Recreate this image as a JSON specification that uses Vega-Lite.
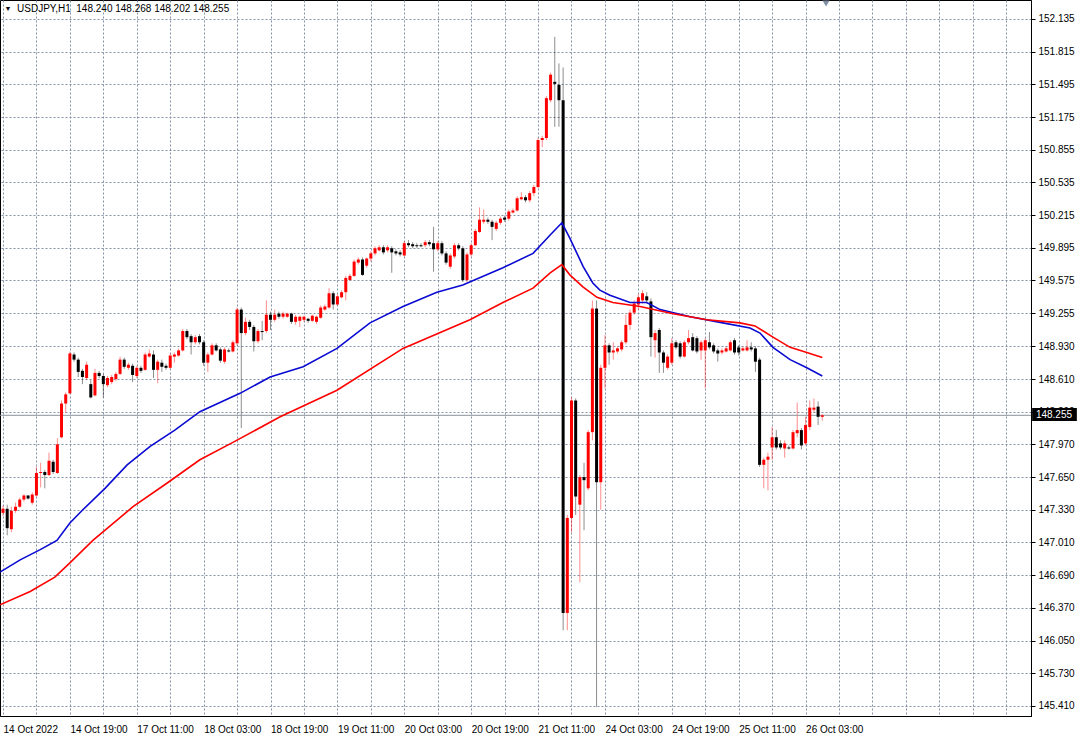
{
  "$schema": "https://vega.github.io/schema/vega-lite/v6.json",
  "width": 1031,
  "height": 716,
  "autosize": {"type": "none"},
  "padding": {"top": 0, "left": 0, "right": 54, "bottom": 28},
  "background": "#ffffff",
  "config": {
    "view": {"stroke": "#000000", "strokeWidth": 1},
    "font": "Liberation Sans, Arial, sans-serif",
    "scale": {"continuousPadding": 0},
    "axis": {
      "grid": true, "gridColor": "#8591a5", "gridDash": [2, 2], "gridWidth": 1, "gridOpacity": 1,
      "domainColor": "#000000", "tickColor": "#000000",
      "labelFontSize": 10, "labelColor": "#000000", "labelFont": "Liberation Sans, Arial, sans-serif",
      "labelOverlap": false, "labelFlush": false, "labelBound": false, "labelSeparation": 0
    }
  },
  "resolve": {"axis": {"x": "independent", "y": "independent"}},
  "datasets": {
    "ohlc": [
      {"i":0,"o":147.30,"h":147.37,"l":147.27,"c":147.34},
      {"i":1,"o":147.34,"h":147.38,"l":147.08,"c":147.15},
      {"i":2,"o":147.14,"h":147.36,"l":147.11,"c":147.32},
      {"i":3,"o":147.32,"h":147.40,"l":147.30,"c":147.36},
      {"i":4,"o":147.36,"h":147.45,"l":147.35,"c":147.43},
      {"i":5,"o":147.43,"h":147.48,"l":147.41,"c":147.47},
      {"i":6,"o":147.47,"h":147.47,"l":147.43,"c":147.44},
      {"i":7,"o":147.40,"h":147.50,"l":147.38,"c":147.48},
      {"i":8,"o":147.47,"h":147.75,"l":147.46,"c":147.69},
      {"i":9,"o":147.69,"h":147.79,"l":147.55,"c":147.70},
      {"i":10,"o":147.70,"h":147.72,"l":147.54,"c":147.67},
      {"i":11,"o":147.67,"h":147.89,"l":147.66,"c":147.81},
      {"i":12,"o":147.80,"h":147.82,"l":147.68,"c":147.70},
      {"i":13,"o":147.69,"h":148.03,"l":147.68,"c":147.97},
      {"i":14,"o":148.04,"h":148.40,"l":148.03,"c":148.37},
      {"i":15,"o":148.37,"h":148.48,"l":148.28,"c":148.46},
      {"i":16,"o":148.47,"h":148.88,"l":148.46,"c":148.86},
      {"i":17,"o":148.85,"h":148.87,"l":148.78,"c":148.80},
      {"i":18,"o":148.80,"h":148.82,"l":148.63,"c":148.68},
      {"i":19,"o":148.69,"h":148.71,"l":148.56,"c":148.63},
      {"i":20,"o":148.62,"h":148.78,"l":148.60,"c":148.75},
      {"i":21,"o":148.56,"h":148.60,"l":148.42,"c":148.43},
      {"i":22,"o":148.45,"h":148.71,"l":148.44,"c":148.67},
      {"i":23,"o":148.67,"h":148.69,"l":148.62,"c":148.64},
      {"i":24,"o":148.64,"h":148.66,"l":148.43,"c":148.56},
      {"i":25,"o":148.55,"h":148.64,"l":148.53,"c":148.62},
      {"i":26,"o":148.58,"h":148.65,"l":148.56,"c":148.63},
      {"i":27,"o":148.61,"h":148.68,"l":148.59,"c":148.66},
      {"i":28,"o":148.66,"h":148.83,"l":148.65,"c":148.80},
      {"i":29,"o":148.80,"h":148.82,"l":148.71,"c":148.73},
      {"i":30,"o":148.72,"h":148.77,"l":148.70,"c":148.75},
      {"i":31,"o":148.74,"h":148.76,"l":148.58,"c":148.65},
      {"i":32,"o":148.64,"h":148.74,"l":148.62,"c":148.72},
      {"i":33,"o":148.72,"h":148.74,"l":148.67,"c":148.69},
      {"i":34,"o":148.70,"h":148.87,"l":148.69,"c":148.85},
      {"i":35,"o":148.83,"h":148.90,"l":148.82,"c":148.86},
      {"i":36,"o":148.85,"h":148.89,"l":148.62,"c":148.70},
      {"i":37,"o":148.70,"h":148.80,"l":148.57,"c":148.78},
      {"i":38,"o":148.77,"h":148.80,"l":148.68,"c":148.73},
      {"i":39,"o":148.74,"h":148.76,"l":148.70,"c":148.72},
      {"i":40,"o":148.72,"h":148.86,"l":148.71,"c":148.84},
      {"i":41,"o":148.83,"h":148.87,"l":148.77,"c":148.85},
      {"i":42,"o":148.84,"h":148.91,"l":148.83,"c":148.89},
      {"i":43,"o":148.89,"h":149.10,"l":148.88,"c":149.08},
      {"i":44,"o":149.08,"h":149.10,"l":149.00,"c":149.02},
      {"i":45,"o":149.03,"h":149.05,"l":148.85,"c":148.97},
      {"i":46,"o":148.97,"h":149.04,"l":148.95,"c":149.02},
      {"i":47,"o":149.03,"h":149.05,"l":148.95,"c":148.97},
      {"i":48,"o":148.97,"h":148.99,"l":148.74,"c":148.77},
      {"i":49,"o":148.77,"h":148.87,"l":148.68,"c":148.85},
      {"i":50,"o":148.85,"h":148.96,"l":148.84,"c":148.94},
      {"i":51,"o":148.94,"h":148.96,"l":148.88,"c":148.89},
      {"i":52,"o":148.90,"h":148.92,"l":148.77,"c":148.79},
      {"i":53,"o":148.78,"h":148.92,"l":148.76,"c":148.90},
      {"i":54,"o":148.89,"h":148.91,"l":148.87,"c":148.88},
      {"i":55,"o":148.88,"h":148.99,"l":148.87,"c":148.97},
      {"i":56,"o":148.96,"h":149.31,"l":148.94,"c":149.29},
      {"i":57,"o":149.29,"h":149.31,"l":148.13,"c":149.06},
      {"i":58,"o":149.06,"h":149.21,"l":149.04,"c":149.17},
      {"i":59,"o":149.17,"h":149.19,"l":149.09,"c":149.12},
      {"i":60,"o":149.12,"h":149.14,"l":148.88,"c":148.98},
      {"i":61,"o":148.98,"h":149.10,"l":148.96,"c":149.08},
      {"i":62,"o":149.08,"h":149.18,"l":148.99,"c":149.07},
      {"i":63,"o":149.08,"h":149.38,"l":149.06,"c":149.24},
      {"i":64,"o":149.24,"h":149.27,"l":149.09,"c":149.19},
      {"i":65,"o":149.19,"h":149.29,"l":149.17,"c":149.24},
      {"i":66,"o":149.25,"h":149.27,"l":149.20,"c":149.22},
      {"i":67,"o":149.22,"h":149.27,"l":149.20,"c":149.25},
      {"i":68,"o":149.22,"h":149.26,"l":149.21,"c":149.25},
      {"i":69,"o":149.25,"h":149.26,"l":149.15,"c":149.17},
      {"i":70,"o":149.17,"h":149.24,"l":149.14,"c":149.22},
      {"i":71,"o":149.18,"h":149.23,"l":149.12,"c":149.22},
      {"i":72,"o":149.19,"h":149.23,"l":149.17,"c":149.22},
      {"i":73,"o":149.20,"h":149.21,"l":149.16,"c":149.18},
      {"i":74,"o":149.18,"h":149.24,"l":149.17,"c":149.23},
      {"i":75,"o":149.17,"h":149.23,"l":149.15,"c":149.22},
      {"i":76,"o":149.21,"h":149.33,"l":149.20,"c":149.31},
      {"i":77,"o":149.29,"h":149.34,"l":149.28,"c":149.32},
      {"i":78,"o":149.31,"h":149.50,"l":149.30,"c":149.45},
      {"i":79,"o":149.45,"h":149.47,"l":149.29,"c":149.34},
      {"i":80,"o":149.34,"h":149.44,"l":149.33,"c":149.42},
      {"i":81,"o":149.41,"h":149.48,"l":149.40,"c":149.46},
      {"i":82,"o":149.46,"h":149.62,"l":149.38,"c":149.60},
      {"i":83,"o":149.58,"h":149.64,"l":149.57,"c":149.62},
      {"i":84,"o":149.62,"h":149.78,"l":149.61,"c":149.76},
      {"i":85,"o":149.75,"h":149.80,"l":149.73,"c":149.78},
      {"i":86,"o":149.78,"h":149.80,"l":149.62,"c":149.63},
      {"i":87,"o":149.72,"h":149.80,"l":149.70,"c":149.79},
      {"i":88,"o":149.79,"h":149.86,"l":149.76,"c":149.84},
      {"i":89,"o":149.84,"h":149.91,"l":149.82,"c":149.89},
      {"i":90,"o":149.87,"h":149.92,"l":149.86,"c":149.90},
      {"i":91,"o":149.90,"h":149.92,"l":149.83,"c":149.85},
      {"i":92,"o":149.87,"h":149.92,"l":149.85,"c":149.90},
      {"i":93,"o":149.89,"h":149.91,"l":149.65,"c":149.85},
      {"i":94,"o":149.86,"h":149.88,"l":149.82,"c":149.84},
      {"i":95,"o":149.85,"h":149.87,"l":149.81,"c":149.83},
      {"i":96,"o":149.82,"h":149.96,"l":149.81,"c":149.94},
      {"i":97,"o":149.94,"h":149.97,"l":149.90,"c":149.92},
      {"i":98,"o":149.93,"h":149.95,"l":149.89,"c":149.91},
      {"i":99,"o":149.92,"h":149.94,"l":149.89,"c":149.91},
      {"i":100,"o":149.92,"h":149.94,"l":149.90,"c":149.91},
      {"i":101,"o":149.92,"h":149.97,"l":149.90,"c":149.95},
      {"i":102,"o":149.95,"h":149.97,"l":149.91,"c":149.93},
      {"i":103,"o":149.94,"h":150.10,"l":149.66,"c":149.88},
      {"i":104,"o":149.88,"h":149.96,"l":149.86,"c":149.94},
      {"i":105,"o":149.94,"h":149.96,"l":149.82,"c":149.84},
      {"i":106,"o":149.84,"h":149.86,"l":149.73,"c":149.75},
      {"i":107,"o":149.71,"h":149.84,"l":149.69,"c":149.82},
      {"i":108,"o":149.81,"h":149.94,"l":149.79,"c":149.92},
      {"i":109,"o":149.92,"h":149.94,"l":149.87,"c":149.89},
      {"i":110,"o":149.89,"h":149.91,"l":149.56,"c":149.58},
      {"i":111,"o":149.58,"h":149.85,"l":149.56,"c":149.83},
      {"i":112,"o":149.83,"h":149.94,"l":149.81,"c":149.92},
      {"i":113,"o":149.92,"h":150.08,"l":149.91,"c":150.06},
      {"i":114,"o":150.05,"h":150.29,"l":150.04,"c":150.17},
      {"i":115,"o":150.15,"h":150.27,"l":150.13,"c":150.17},
      {"i":116,"o":150.17,"h":150.19,"l":150.13,"c":150.15},
      {"i":117,"o":150.15,"h":150.17,"l":149.97,"c":150.10},
      {"i":118,"o":150.08,"h":150.16,"l":150.06,"c":150.14},
      {"i":119,"o":150.14,"h":150.20,"l":150.12,"c":150.18},
      {"i":120,"o":150.19,"h":150.21,"l":150.15,"c":150.17},
      {"i":121,"o":150.18,"h":150.27,"l":150.16,"c":150.25},
      {"i":122,"o":150.24,"h":150.28,"l":150.23,"c":150.26},
      {"i":123,"o":150.26,"h":150.40,"l":150.25,"c":150.38},
      {"i":124,"o":150.37,"h":150.44,"l":150.36,"c":150.39},
      {"i":125,"o":150.39,"h":150.41,"l":150.34,"c":150.36},
      {"i":126,"o":150.36,"h":150.45,"l":150.34,"c":150.43},
      {"i":127,"o":150.43,"h":150.51,"l":150.40,"c":150.49},
      {"i":128,"o":150.49,"h":150.97,"l":150.48,"c":150.95},
      {"i":129,"o":150.95,"h":150.99,"l":150.88,"c":150.97},
      {"i":130,"o":150.97,"h":151.38,"l":150.95,"c":151.36},
      {"i":131,"o":151.34,"h":151.61,"l":151.32,"c":151.59},
      {"i":132,"o":151.52,"h":151.96,"l":151.08,"c":151.50},
      {"i":133,"o":151.49,"h":151.70,"l":151.08,"c":151.34},
      {"i":134,"o":151.34,"h":151.66,"l":146.15,"c":146.32},
      {"i":135,"o":146.32,"h":147.28,"l":146.15,"c":147.25},
      {"i":136,"o":147.25,"h":148.43,"l":147.11,"c":148.40},
      {"i":137,"o":148.40,"h":148.42,"l":147.28,"c":147.46},
      {"i":138,"o":147.38,"h":147.67,"l":146.62,"c":147.65},
      {"i":139,"o":147.65,"h":147.79,"l":147.13,"c":147.62},
      {"i":140,"o":147.54,"h":148.11,"l":147.52,"c":148.09},
      {"i":141,"o":148.09,"h":149.38,"l":148.01,"c":149.30},
      {"i":142,"o":149.30,"h":149.38,"l":145.40,"c":147.60},
      {"i":143,"o":147.60,"h":148.75,"l":147.33,"c":148.72},
      {"i":144,"o":148.72,"h":149.04,"l":148.52,"c":148.94},
      {"i":145,"o":148.94,"h":148.96,"l":148.75,"c":148.87},
      {"i":146,"o":148.87,"h":148.97,"l":148.80,"c":148.89},
      {"i":147,"o":148.88,"h":148.93,"l":148.86,"c":148.91},
      {"i":148,"o":148.90,"h":148.99,"l":148.88,"c":148.97},
      {"i":149,"o":148.97,"h":149.24,"l":148.95,"c":149.14},
      {"i":150,"o":149.14,"h":149.29,"l":149.09,"c":149.26},
      {"i":151,"o":149.26,"h":149.38,"l":149.24,"c":149.35},
      {"i":152,"o":149.34,"h":149.44,"l":149.29,"c":149.41},
      {"i":153,"o":149.38,"h":149.48,"l":149.35,"c":149.45},
      {"i":154,"o":149.42,"h":149.46,"l":149.35,"c":149.38},
      {"i":155,"o":149.37,"h":149.40,"l":148.83,"c":149.02},
      {"i":156,"o":148.99,"h":149.09,"l":148.82,"c":149.06},
      {"i":157,"o":149.09,"h":149.11,"l":148.67,"c":148.87},
      {"i":158,"o":148.87,"h":148.89,"l":148.67,"c":148.77},
      {"i":159,"o":148.72,"h":148.85,"l":148.70,"c":148.83},
      {"i":160,"o":148.77,"h":149.01,"l":148.75,"c":148.96},
      {"i":161,"o":148.97,"h":148.99,"l":148.90,"c":148.92},
      {"i":162,"o":148.96,"h":148.98,"l":148.81,"c":148.83},
      {"i":163,"o":148.83,"h":148.99,"l":148.82,"c":148.97},
      {"i":164,"o":148.97,"h":149.09,"l":148.95,"c":149.01},
      {"i":165,"o":149.02,"h":149.06,"l":148.88,"c":148.89},
      {"i":166,"o":149.01,"h":149.03,"l":148.86,"c":148.88},
      {"i":167,"o":148.89,"h":148.99,"l":148.80,"c":148.97},
      {"i":168,"o":148.89,"h":149.01,"l":148.52,"c":148.99},
      {"i":169,"o":148.97,"h":149.07,"l":148.90,"c":148.92},
      {"i":170,"o":148.94,"h":148.96,"l":148.86,"c":148.88},
      {"i":171,"o":148.89,"h":148.91,"l":148.78,"c":148.86},
      {"i":172,"o":148.87,"h":148.91,"l":148.85,"c":148.89},
      {"i":173,"o":148.88,"h":148.93,"l":148.87,"c":148.91},
      {"i":174,"o":148.89,"h":148.99,"l":148.88,"c":148.97},
      {"i":175,"o":148.99,"h":149.01,"l":148.85,"c":148.87},
      {"i":176,"o":148.92,"h":148.94,"l":148.84,"c":148.87},
      {"i":177,"o":148.89,"h":148.93,"l":148.88,"c":148.91},
      {"i":178,"o":148.89,"h":148.99,"l":148.88,"c":148.92},
      {"i":179,"o":148.92,"h":148.97,"l":148.88,"c":148.90},
      {"i":180,"o":148.91,"h":148.93,"l":148.68,"c":148.78},
      {"i":181,"o":148.80,"h":148.82,"l":147.75,"c":147.77},
      {"i":182,"o":147.77,"h":147.84,"l":147.54,"c":147.82},
      {"i":183,"o":147.82,"h":147.89,"l":147.52,"c":147.85},
      {"i":184,"o":147.94,"h":148.14,"l":147.82,"c":148.04},
      {"i":185,"o":148.04,"h":148.11,"l":147.92,"c":147.94},
      {"i":186,"o":147.98,"h":148.01,"l":147.92,"c":147.94},
      {"i":187,"o":147.93,"h":148.01,"l":147.84,"c":147.98},
      {"i":188,"o":147.94,"h":147.96,"l":147.92,"c":147.93},
      {"i":189,"o":147.93,"h":148.11,"l":147.92,"c":148.09},
      {"i":190,"o":148.08,"h":148.38,"l":148.04,"c":148.11},
      {"i":191,"o":148.11,"h":148.13,"l":147.92,"c":147.96},
      {"i":192,"o":147.98,"h":148.24,"l":147.96,"c":148.16},
      {"i":193,"o":148.14,"h":148.40,"l":148.11,"c":148.33},
      {"i":194,"o":148.31,"h":148.42,"l":148.28,"c":148.33},
      {"i":195,"o":148.34,"h":148.39,"l":148.16,"c":148.24},
      {"i":196,"o":148.240,"h":148.268,"l":148.202,"c":148.255}
    ],
    "ma": [
      {"s":"fast","i":-0.72,"v":146.72},{"s":"fast","i":4.1,"v":146.84},{"s":"fast","i":8.9,"v":146.94},
      {"s":"fast","i":12.9,"v":147.03},{"s":"fast","i":16,"v":147.20},{"s":"fast","i":19.1,"v":147.33},
      {"s":"fast","i":24.4,"v":147.54},{"s":"fast","i":29.7,"v":147.77},{"s":"fast","i":35.2,"v":147.95},
      {"s":"fast","i":41.1,"v":148.11},{"s":"fast","i":47.1,"v":148.29},{"s":"fast","i":56.7,"v":148.47},
      {"s":"fast","i":63.9,"v":148.63},{"s":"fast","i":71.8,"v":148.73},{"s":"fast","i":79.9,"v":148.91},
      {"s":"fast","i":87.8,"v":149.16},{"s":"fast","i":95.7,"v":149.32},{"s":"fast","i":103.8,"v":149.46},
      {"s":"fast","i":110,"v":149.53},{"s":"fast","i":119.6,"v":149.70},{"s":"fast","i":126.8,"v":149.84},
      {"s":"fast","i":130.9,"v":150.02},{"s":"fast","i":133.7,"v":150.14},{"s":"fast","i":135.6,"v":149.99},
      {"s":"fast","i":138.8,"v":149.71},{"s":"fast","i":141.1,"v":149.55},{"s":"fast","i":142.8,"v":149.48},
      {"s":"fast","i":145.2,"v":149.43},{"s":"fast","i":150,"v":149.36},{"s":"fast","i":154,"v":149.36},
      {"s":"fast","i":157.2,"v":149.29},{"s":"fast","i":164.4,"v":149.22},{"s":"fast","i":172.2,"v":149.16},
      {"s":"fast","i":178.7,"v":149.11},{"s":"fast","i":181.1,"v":149.06},{"s":"fast","i":184.2,"v":148.92},
      {"s":"fast","i":188.3,"v":148.80},{"s":"fast","i":192.3,"v":148.72},{"s":"fast","i":196,"v":148.64},
      {"s":"slow","i":-0.72,"v":146.40},{"s":"slow","i":6.5,"v":146.53},{"s":"slow","i":12.4,"v":146.67},
      {"s":"slow","i":16,"v":146.81},{"s":"slow","i":21.5,"v":147.03},{"s":"slow","i":31.1,"v":147.36},
      {"s":"slow","i":39.2,"v":147.59},{"s":"slow","i":47.1,"v":147.82},{"s":"slow","i":55,"v":147.99},
      {"s":"slow","i":66.3,"v":148.24},{"s":"slow","i":79.9,"v":148.50},{"s":"slow","i":95.7,"v":148.91},
      {"s":"slow","i":111.7,"v":149.19},{"s":"slow","i":119.6,"v":149.36},{"s":"slow","i":126.8,"v":149.50},
      {"s":"slow","i":130.9,"v":149.65},{"s":"slow","i":133.7,"v":149.73},{"s":"slow","i":135.6,"v":149.63},
      {"s":"slow","i":138.8,"v":149.51},{"s":"slow","i":142.1,"v":149.41},{"s":"slow","i":145.9,"v":149.36},
      {"s":"slow","i":152.4,"v":149.32},{"s":"slow","i":160.3,"v":149.25},{"s":"slow","i":168.4,"v":149.19},
      {"s":"slow","i":176.3,"v":149.16},{"s":"slow","i":179.9,"v":149.13},{"s":"slow","i":184.2,"v":149.02},
      {"s":"slow","i":188.3,"v":148.92},{"s":"slow","i":192.3,"v":148.87},{"s":"slow","i":196,"v":148.82}
    ],
    "header": [{"label": "USDJPY,H1\u00a0\u00a0148.240 148.268 148.202 148.255", "arrow": "▼"}]
  },
  "layer": [
    {
      "data": {"name": "ohlc"},
      "mark": {"type": "rule", "strokeWidth": 1, "opacity": 0.45},
      "encoding": {
        "x": {
          "field": "i", "type": "quantitative", "title": null,
          "scale": {"domain": [-0.72, 245.93], "nice": false, "zero": false, "padding": 0},
          "axis": {
            "values": [0,8,16,24,32,40,48,56,64,72,80,88,96,104,112,120,128,136,144,152,160,168,176,184,192,200,208,216,224,232,240],
            "labelExpr": "datum.value % 16 == 0 && datum.value <= 192 ? ['14 Oct 2022','14 Oct 19:00','17 Oct 11:00','18 Oct 03:00','18 Oct 19:00','19 Oct 11:00','20 Oct 03:00','20 Oct 19:00','21 Oct 11:00','24 Oct 03:00','24 Oct 19:00','25 Oct 11:00','26 Oct 03:00'][datum.value / 16] : ''",
            "title": null, "orient": "bottom",
            "grid": true, "ticks": false, "domain": true,
            "labelAlign": "left", "labelBaseline": "top", "labelPadding": 8,
            "labelFlush": false, "labelOverlap": false, "labelBound": false
          }
        },
        "y": {
          "field": "l", "type": "quantitative", "title": null,
          "scale": {"domain": [145.311, 152.321], "nice": false, "zero": false, "padding": 0},
          "axis": {
            "values": [145.41,145.73,146.05,146.37,146.69,147.01,147.33,147.65,147.97,148.29,148.61,148.93,149.255,149.575,149.895,150.215,150.535,150.855,151.175,151.495,151.815,152.135],
            "format": ".3f", "orient": "right", "title": null,
            "grid": true, "ticks": true, "tickSize": 4, "domain": true,
            "labelPadding": 3, "labelBaseline": "middle",
            "labelOverlap": false, "labelFlush": false, "labelBound": false
          }
        },
        "y2": {"field": "h"},
        "color": {"condition": {"test": "datum.c > datum.o", "value": "#ff0000"}, "value": "#000000"}
      }
    },
    {
      "data": {"name": "ohlc"},
      "transform": [{"filter": "datum.i == 196"}],
      "mark": {"type": "rule", "color": "#8a939c", "strokeWidth": 1},
      "encoding": {
        "y": {"field": "c", "type": "quantitative", "axis": null}
      }
    },
    {
      "data": {"name": "ohlc"},
      "mark": {"type": "bar", "size": 3},
      "encoding": {
        "x": {"field": "i", "type": "quantitative", "axis": null},
        "y": {"field": "o", "type": "quantitative", "axis": null},
        "y2": {"field": "c"},
        "color": {"condition": {"test": "datum.c > datum.o", "value": "#ff0000"}, "value": "#000000"}
      }
    },
    {
      "data": {"name": "ma"},
      "mark": {"type": "line", "strokeWidth": 1.6},
      "encoding": {
        "x": {"field": "i", "type": "quantitative", "axis": null},
        "y": {"field": "v", "type": "quantitative", "axis": null},
        "color": {"field": "s", "type": "nominal", "scale": {"domain": ["fast", "slow"], "range": ["#0a0ad2", "#ff0000"]}, "legend": null}
      }
    },
    {
      "data": {"name": "ohlc"},
      "transform": [{"filter": "datum.i == 196"}],
      "mark": {"type": "rect", "color": "#000000"},
      "encoding": {
        "x": {"datum": 246.2, "type": "quantitative", "axis": null},
        "x2": {"datum": 256.9},
        "y": {"datum": 148.327, "type": "quantitative", "axis": null},
        "y2": {"datum": 148.199}
      }
    },
    {
      "data": {"name": "ohlc"},
      "transform": [{"filter": "datum.i == 196"}],
      "mark": {"type": "text", "align": "left", "baseline": "middle", "color": "#ffffff", "fontSize": 10},
      "encoding": {
        "x": {"datum": 247.1, "type": "quantitative", "axis": null},
        "y": {"field": "c", "type": "quantitative", "axis": null},
        "text": {"field": "c", "type": "quantitative", "format": ".3f"}
      }
    },
    {
      "data": {"name": "header"},
      "mark": {"type": "text", "align": "left", "baseline": "middle", "color": "#000000", "fontSize": 10},
      "encoding": {
        "x": {"datum": 3.35, "type": "quantitative", "axis": null},
        "y": {"datum": 152.228, "type": "quantitative", "axis": null},
        "text": {"field": "label"}
      }
    },
    {
      "data": {"name": "header"},
      "mark": {"type": "text", "align": "center", "baseline": "middle", "color": "#000000", "fontSize": 7},
      "encoding": {
        "x": {"datum": 1.2, "type": "quantitative", "axis": null},
        "y": {"datum": 152.233, "type": "quantitative", "axis": null},
        "text": {"field": "arrow"}
      }
    },
    {
      "data": {"name": "header"},
      "mark": {"type": "point", "shape": "triangle-down", "filled": true, "size": 50, "color": "#7f8ea3", "opacity": 1},
      "encoding": {
        "x": {"datum": 196.9, "type": "quantitative", "axis": null},
        "y": {"datum": 152.287, "type": "quantitative", "axis": null}
      }
    }
  ]
}
